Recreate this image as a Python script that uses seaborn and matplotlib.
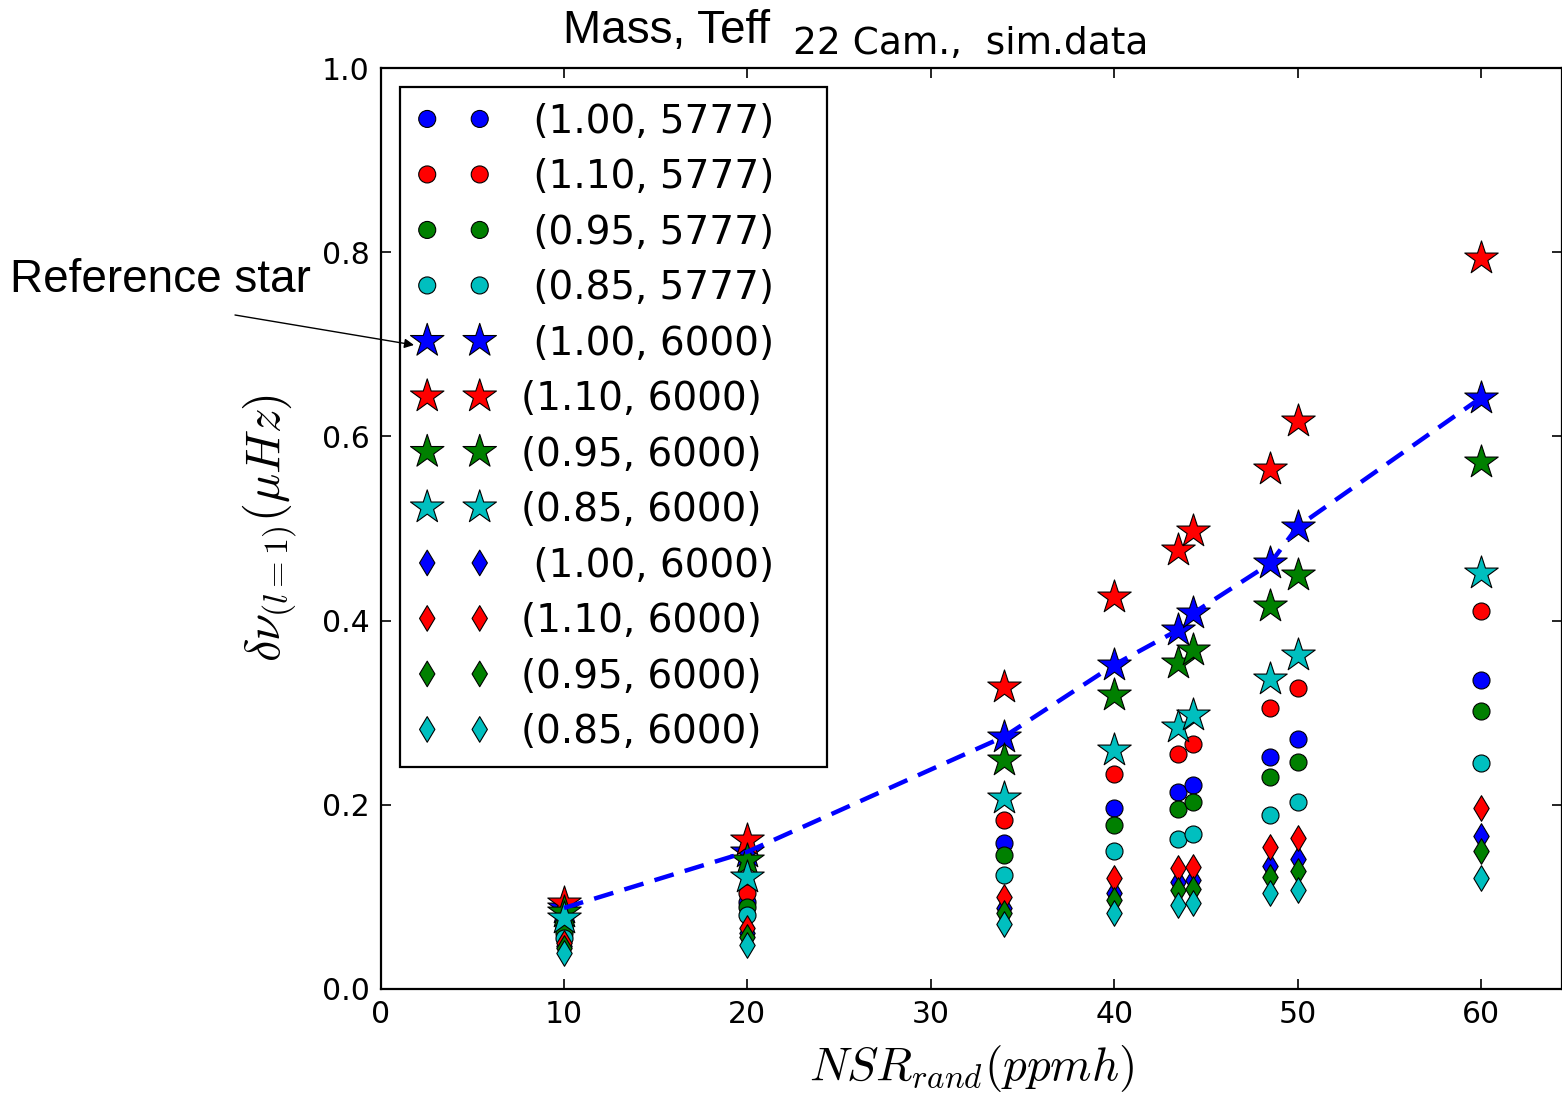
import matplotlib
matplotlib.use("Agg")
import matplotlib.pyplot as plt
import seaborn as sns
import numpy as np
import pandas as pd

# ---------------- data ----------------
nsr = [10, 20, 34, 40, 43.5, 44.3, 48.5, 50, 60]

circ_100_5777 = [0.064, 0.095, 0.159, 0.196, 0.214, 0.222, 0.252, 0.271, 0.336]
circ_110_5777 = [0.068, 0.104, 0.183, 0.233, 0.255, 0.266, 0.305, 0.327, 0.410]
circ_095_5777 = [0.061, 0.089, 0.145, 0.178, 0.195, 0.203, 0.230, 0.246, 0.302]
circ_085_5777 = [0.055, 0.080, 0.124, 0.150, 0.163, 0.168, 0.189, 0.203, 0.245]

star_100_6000 = [0.088, 0.149, 0.274, 0.352, 0.390, 0.408, 0.462, 0.502, 0.642]
star_110_6000 = [0.093, 0.162, 0.328, 0.426, 0.477, 0.497, 0.565, 0.617, 0.794]
star_095_6000 = [0.084, 0.140, 0.249, 0.319, 0.354, 0.368, 0.416, 0.450, 0.572]
star_085_6000 = [0.077, 0.122, 0.207, 0.259, 0.285, 0.297, 0.337, 0.363, 0.452]

diam_100_6000 = [0.047, 0.061, 0.088, 0.104, 0.116, 0.118, 0.134, 0.141, 0.166]
diam_110_6000 = [0.050, 0.066, 0.100, 0.120, 0.131, 0.133, 0.154, 0.164, 0.196]
diam_095_6000 = [0.045, 0.057, 0.082, 0.097, 0.107, 0.109, 0.122, 0.128, 0.150]
diam_085_6000 = [0.039, 0.048, 0.071, 0.082, 0.091, 0.093, 0.104, 0.108, 0.121]

# reference-star line (dashed)
ref_line = star_100_6000

labels = [" (1.00, 5777)   ", " (1.10, 5777)   ", " (0.95, 5777)   ", " (0.85, 5777)   ",
          " (1.00, 6000)   ", "(1.10, 6000)", "(0.95, 6000)", "(0.85, 6000)",
          " (1.00, 6000)   ", "(1.10, 6000)", "(0.95, 6000)", "(0.85, 6000)"]

series = [circ_100_5777, circ_110_5777, circ_095_5777, circ_085_5777,
          star_100_6000, star_110_6000, star_095_6000, star_085_6000,
          diam_100_6000, diam_110_6000, diam_095_6000, diam_085_6000]

colors = ["#0000ff", "#ff0000", "#008000", "#00bfbf"] * 3
markers = ["o"] * 4 + ["*"] * 4 + ["d"] * 4
sizes = [150] * 4 + [640] * 4 + [170] * 4

# ---------------- style ----------------
sns.set_style("ticks")
plt.rcParams["font.family"] = ["DejaVu Sans"]
plt.rcParams["mathtext.fontset"] = "cm"
plt.rcParams["xtick.direction"] = "in"
plt.rcParams["ytick.direction"] = "in"
plt.rcParams["xtick.top"] = True
plt.rcParams["ytick.right"] = True
plt.rcParams["text.color"] = "black"
plt.rcParams["axes.labelcolor"] = "black"
plt.rcParams["xtick.color"] = "black"
plt.rcParams["ytick.color"] = "black"

W, H = 1562, 1097
fig = plt.figure(figsize=(W / 100, H / 100), dpi=100)
fig.patch.set_facecolor("white")

ax_left = 380.6 / W
ax_bottom = (H - 989) / H
ax_top = (H - 68) / H
ax = fig.add_axes([ax_left, ax_bottom, 1.0 - ax_left, ax_top - ax_bottom])

for vals, lab, col, mk, sz in zip(series, labels, colors, markers, sizes):
    df = pd.DataFrame({"x": nsr, "y": vals})
    sns.scatterplot(data=df, x="x", y="y", ax=ax, color=col, marker=mk, s=sz,
                    edgecolor="black", linewidth=0.8, label=lab.rstrip(), legend=False,
                    zorder=3)

df_line = pd.DataFrame({"x": nsr, "y": ref_line})
sns.lineplot(data=df_line, x="x", y="y", ax=ax, color="#0000ff", lw=3.2,
             linestyle=(0, (4.5, 2.6)), zorder=4, legend=False)

px_per_unit = 18.34
ax.set_xlim(0, (W - 380.6) / px_per_unit)
ax.set_ylim(0, 1.0)
ax.set_xticks([0, 10, 20, 30, 40, 50, 60])
ax.set_yticks([0.0, 0.2, 0.4, 0.6, 0.8, 1.0])
ax.set_yticklabels(["0.0", "0.2", "0.4", "0.6", "0.8", "1.0"])
ax.tick_params(axis="both", which="major", labelsize=21.5, length=7, width=1.2,
               colors="black", pad=8)
for sp in ax.spines.values():
    sp.set_linewidth(1.6)
    sp.set_color("black")

ax.set_xlabel(r"$NSR_{rand}(ppmh)$", fontsize=34, labelpad=10)
ax.set_ylabel(r"$\delta\nu_{(l=1)}(\mu Hz)$", fontsize=35, labelpad=16)

# legend
handles = ax.collections[:12]
leg = ax.legend(handles=handles, labels=labels, loc="upper left",
                bbox_to_anchor=(400 / W, 1 - 87 / H), bbox_transform=fig.transFigure,
                borderaxespad=0, scatterpoints=2, scatteryoffsets=[0.5],
                fontsize=28, handlelength=1.95, handletextpad=0.75,
                labelspacing=0.45, borderpad=0.4, fancybox=False, framealpha=1,
                edgecolor="black")
leg.get_frame().set_linewidth(1.6)
leg.set_zorder(5)

# title pieces
fig.text(563 / W, 1 - 43 / H, "Mass, Teff", fontsize=33, family="Liberation Sans",
         va="baseline", ha="left", color="black")
fig.text(793 / W, 1 - 54 / H, "22 Cam.,  sim.data", fontsize=27,
         va="baseline", ha="left", color="black")

# annotation
arr = ax.annotate("", xy=(414 / W, 1 - 345 / H), xycoords="figure fraction",
                  xytext=(235 / W, 1 - 315 / H), textcoords="figure fraction",
                  arrowprops=dict(arrowstyle="-|>", color="black", lw=1.0,
                                  mutation_scale=14, shrinkA=0, shrinkB=0))
arr.set_zorder(10)
fig.text(10 / W, 1 - 292 / H, "Reference star", fontsize=33,
         family="Liberation Sans", va="baseline", ha="left", color="black")

fig.savefig("out.png", dpi=100)
